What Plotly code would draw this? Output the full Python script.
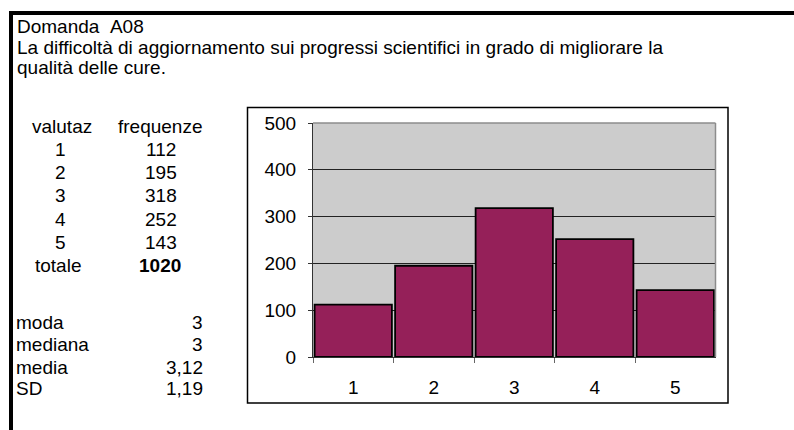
import plotly.graph_objects as go

# ---- data ----
titolo = "Domanda\u00a0\u00a0A08"
domanda_righe = [
    "La difficoltà di aggiornamento sui progressi scientifici in grado di migliorare la",
    "qualità delle cure.",
]
valutaz = ["1", "2", "3", "4", "5"]
frequenze = [112, 195, 318, 252, 143]
totale = 1020
stat_labels = ["moda", "mediana", "media", "SD"]
stat_values = ["3", "3", "3,12", "1,19"]
y_ticks = [0, 100, 200, 300, 400, 500]

W, H = 794, 430
FONT = "Arial, Liberation Sans, sans-serif"
FS = 19


def px(x):
    return x / W


def py(y):
    return 1 - y / H


fig = go.Figure()
fig.add_trace(go.Bar(
    x=valutaz, y=frequenze,
    marker=dict(color="#952059", line=dict(color="#000000", width=1.8)),
    hoverinfo="x+y",
))

ann = []


def txt(x, y, s, anchor="left", bold=False):
    ann.append(dict(
        x=px(x), y=py(y), xref="paper", yref="paper", text=("<b>%s</b>" % s) if bold else s,
        showarrow=False, xanchor=anchor, yanchor="middle",
        font=dict(family=FONT, size=FS, color="#000000"),
    ))


txt(15, 26, titolo)
txt(15, 47, domanda_righe[0])
txt(15, 68, domanda_righe[1])

txt(62, 126, "valutaz", "center")
txt(160, 126, "frequenze", "center")
row_y = [150, 173, 196, 219, 242]
for v, f, yy in zip(valutaz, frequenze, row_y):
    txt(60, yy, v, "center")
    txt(161, yy, str(f), "center")
txt(58, 265, "totale", "center")
txt(160, 265, str(totale), "center", bold=True)

stat_y = [322, 344, 367, 388]
for lab, val, yy in zip(stat_labels, stat_values, stat_y):
    txt(14, yy, lab, "left")
    txt(205, yy, val, "right")

shapes = [
    # outer frame (left + top thick lines)
    dict(type="rect", xref="paper", yref="paper", x0=px(9), x1=px(13), y0=py(430), y1=py(11),
         fillcolor="#000000", line=dict(width=0)),
    dict(type="rect", xref="paper", yref="paper", x0=px(9), x1=px(794), y0=py(15), y1=py(11),
         fillcolor="#000000", line=dict(width=0)),
    # chart box
    dict(type="rect", xref="paper", yref="paper", x0=px(247.5), x1=px(728), y0=py(403), y1=py(107.5),
         line=dict(color="#000000", width=1.5)),
    # plot area top and right edges (gray)
    dict(type="line", xref="paper", yref="paper", x0=px(313), x1=px(715.5), y0=py(123), y1=py(123),
         line=dict(color="#8c8c8c", width=1.5)),
    dict(type="line", xref="paper", yref="paper", x0=px(715.5), x1=px(715.5), y0=py(123), y1=py(357),
         line=dict(color="#8c8c8c", width=1.5)),
]

fig.update_layout(
    width=W, height=H, autosize=False,
    margin=dict(l=0, r=0, t=0, b=0, pad=0),
    paper_bgcolor="#ffffff", plot_bgcolor="#cccccc",
    showlegend=False, bargap=0.04,
    font=dict(family=FONT, size=FS, color="#000000"),
    annotations=ann, shapes=shapes,
    xaxis=dict(
        domain=[px(313), px(715.5)], type="category",
        showline=True, linecolor="#333333", linewidth=1,
        ticks="outside", tickson="boundaries", ticklen=5, tickcolor="#666666", tickwidth=1,
        showgrid=False, ticklabelstandoff=13, automargin=False,
        tickfont=dict(family=FONT, size=FS, color="#000000"),
        fixedrange=True,
    ),
    yaxis=dict(
        domain=[py(357), py(123)], range=[0, 500],
        tickvals=y_ticks, ticktext=[str(t) for t in y_ticks],
        showline=True, linecolor="#333333", linewidth=1,
        ticks="outside", ticklen=4, tickcolor="#333333", tickwidth=1,
        showgrid=True, gridcolor="#222222", gridwidth=1,
        zeroline=False, ticklabelstandoff=8, automargin=False,
        tickfont=dict(family=FONT, size=FS, color="#000000"),
        fixedrange=True,
    ),
)

fig.write_html(
    "out.html",
    config={"displayModeBar": False},
    post_script="document.body.style.margin='0';document.body.style.overflow='hidden';",
)
